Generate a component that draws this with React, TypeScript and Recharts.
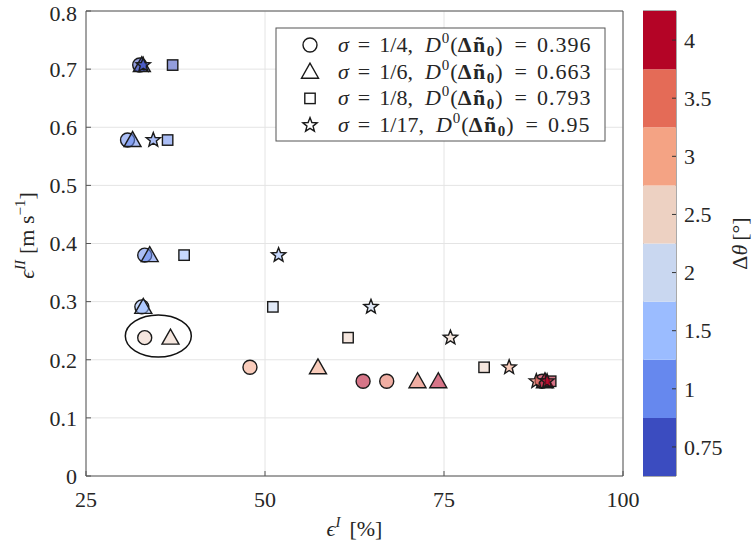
import React from "react";
import {
  ScatterChart,
  Scatter,
  XAxis,
  YAxis,
  CartesianGrid,
  ReferenceArea,
  ReferenceDot,
  BarChart,
  Bar,
} from "recharts";

// colour bins of the discrete colorbar (bottom -> top)
const binLabels = [0.75, 1, 1.5, 2, 2.5, 3, 3.5, 4];
const binColors = ["#3B4CC0", "#6688EE", "#9BBCFF", "#C9D7F0", "#EDD1C2", "#F4A384", "#E46B57", "#B40426"];

// sigma = 1/4 (circles)
const circleX = [32.5, 30.8, 33.2, 32.8, 33.2, 47.9, 63.7, 67.0, 88.7];
const circleY = [0.707, 0.578, 0.38, 0.291, 0.238, 0.187, 0.163, 0.163, 0.163];
const circleDT = [0.8, 1.1, 1.1, 1.7, 2.4, 2.9, 4.1, 3.4, 4.1];

// sigma = 1/6 (triangles)
const triX = [32.8, 31.5, 33.9, 33.0, 36.8, 57.4, 71.3, 74.2, 89.1];
const triY = [0.707, 0.578, 0.38, 0.291, 0.238, 0.187, 0.163, 0.163, 0.163];
const triDT = [0.8, 1.1, 1.1, 1.7, 2.4, 2.9, 3.4, 4.1, 4.1];

// sigma = 1/8 (squares)
const sqX = [37.1, 36.4, 38.7, 51.1, 61.6, 80.6, 89.9];
const sqY = [0.707, 0.578, 0.38, 0.291, 0.238, 0.187, 0.163];
const sqDT = [0.8, 1.1, 1.6, 1.9, 2.4, 2.4, 4.1];

// sigma = 1/17 (stars)
const starX = [33.0, 34.4, 51.9, 64.8, 75.9, 84.1, 87.9, 89.4];
const starY = [0.707, 0.578, 0.38, 0.291, 0.238, 0.187, 0.163, 0.163];
const starDT = [0.8, 1.1, 1.6, 1.9, 2.4, 2.9, 3.4, 4.1];

const xTicks = [25, 50, 75, 100];
const yTicks = [0, 0.1, 0.2, 0.3, 0.4, 0.5, 0.6, 0.7, 0.8];

const legendRows = [
  { kind: "circle", sigma: "1/4", d0: "0.396" },
  { kind: "triangle", sigma: "1/6", d0: "0.663" },
  { kind: "square", sigma: "1/8", d0: "0.793" },
  { kind: "star", sigma: "1/17", d0: "0.95" },
];

const FONT = "'Liberation Serif', 'DejaVu Serif', serif";
const INK = "#262626";

const toPoints = (xs: number[], ys: number[], dts: number[]) =>
  xs.map((x, i) => ({ x, y: ys[i], dt: dts[i] }));

const colorFor = (v: number) => {
  let best = 0;
  binLabels.forEach((b, i) => {
    if (Math.abs(b - v) < Math.abs(binLabels[best] - v)) best = i;
  });
  return binColors[best];
};

function starPath(cx: number, cy: number, ro: number, ri: number) {
  let d = "";
  for (let i = 0; i < 10; i++) {
    const r = i % 2 === 0 ? ro : ri;
    const a = -Math.PI / 2 + (i * Math.PI) / 5;
    d += (i === 0 ? "M" : "L") + (cx + r * Math.cos(a)).toFixed(2) + "," + (cy + r * Math.sin(a)).toFixed(2);
  }
  return d + "Z";
}

function Glyph({ kind, cx, cy, fill, opacity }: any) {
  const common = { fill: fill || "none", fillOpacity: opacity ?? 1, stroke: "#1a1a1a", strokeWidth: 1.4 };
  if (kind === "circle") return <circle cx={cx} cy={cy} r={7} {...common} />;
  if (kind === "triangle")
    return <polygon points={`${cx},${cy - 8.5} ${cx - 8.5},${cy + 6.5} ${cx + 8.5},${cy + 6.5}`} {...common} />;
  if (kind === "square") return <rect x={cx - 5.2} y={cy - 5.2} width={10.4} height={10.4} {...common} />;
  return <path d={starPath(cx, cy, 7.5, 3.2)} {...common} />;
}

const shapeOf = (kind: string) => (p: any) =>
  <Glyph kind={kind} cx={p.cx} cy={p.cy} fill={colorFor(p.payload.dt)} opacity={0.55} />;

function YTitle({ viewBox }: any) {
  const cy = viewBox ? viewBox.y + viewBox.height / 2 - 8 : 236;
  return (
    <text transform={`translate(34, ${cy}) rotate(-90)`} textAnchor="middle" fontFamily={FONT} fontSize={22} fill={INK}>
      <tspan fontStyle="italic">ϵ</tspan>
      <tspan fontStyle="italic" fontSize={15} dy={-9}>II</tspan>
      <tspan dy={9} dx={6}>[m s</tspan>
      <tspan fontSize={15} dy={-9}>−1</tspan>
      <tspan dy={9}>]</tspan>
    </text>
  );
}

function XTitle({ viewBox }: any) {
  const cx = viewBox ? viewBox.x + viewBox.width / 2 : 354;
  const y = viewBox ? viewBox.y + 60 : 536;
  return (
    <text x={cx} y={y} textAnchor="middle" fontFamily={FONT} fontSize={22} fill={INK}>
      <tspan fontStyle="italic">ϵ</tspan>
      <tspan fontStyle="italic" fontSize={15} dy={-9}>I</tspan>
      <tspan dy={9} dx={9}>[%]</tspan>
    </text>
  );
}

function CbTitle({ viewBox }: any) {
  const cy = viewBox ? viewBox.y + viewBox.height / 2 : 244;
  return (
    <text transform={`translate(104, ${cy}) rotate(-90)`} textAnchor="middle" fontFamily={FONT} fontSize={22} fill={INK}>
      <tspan>Δ</tspan>
      <tspan fontStyle="italic">θ</tspan>
      <tspan dx={4}>[°]</tspan>
    </text>
  );
}

function LegendBox() {
  return (
    <svg width={332} height={116} style={{ position: "absolute", left: 275, top: 27 }}>
      <rect x={1} y={1} width={329} height={113} fill="#fff" stroke="#555" strokeWidth={1} />
      {legendRows.map((r, i) => {
        const cy = 18 + i * 26.7;
        return (
          <g key={r.kind}>
            <Glyph kind={r.kind} cx={35} cy={cy} />
            <text x={63} y={cy + 7} fontFamily={FONT} fontSize={22} fill={INK}>
              <tspan fontStyle="italic">σ</tspan>
              <tspan dx={9}>=</tspan>
              <tspan dx={9}>{r.sigma + ","}</tspan>
              <tspan dx={12} fontStyle="italic">D</tspan>
              <tspan fontSize={15} dy={-9} dx={1}>0</tspan>
              <tspan dy={9} dx={1}>(</tspan>
              <tspan fontWeight="bold" letterSpacing={1.5}>Δñ</tspan>
              <tspan fontWeight="bold" fontSize={15} dy={4}>0</tspan>
              <tspan dy={-4} dx={1}>)</tspan>
              <tspan dx={12}>=</tspan>
              <tspan dx={10} letterSpacing={1}>{r.d0}</tspan>
            </text>
          </g>
        );
      })}
    </svg>
  );
}

const tickStyle = { fontFamily: FONT, fontSize: 22, fill: INK };
const cbData = [Object.fromEntries(binLabels.map((_, i) => [`b${i}`, 1]))];

export default function App() {
  return (
    <div style={{ position: "absolute", left: 0, top: 0, width: 753, height: 546, background: "#fff" }}>
      <div style={{ position: "absolute", left: 0, top: 0 }}>
        <ScatterChart width={643} height={546} margin={{ top: 11, right: 20, bottom: 0, left: 0 }}>
          <CartesianGrid stroke="#e4e4e4" strokeWidth={1} />
          <XAxis
            dataKey="x"
            type="number"
            domain={[25, 100]}
            ticks={xTicks}
            height={70}
            tickLine={{ stroke: "#555" }}
            tickSize={-5}
            axisLine={false}
            tick={tickStyle}
            tickMargin={20}
            label={<XTitle />}
          />
          <YAxis
            dataKey="y"
            type="number"
            domain={[0, 0.8]}
            ticks={yTicks}
            width={86}
            tickLine={{ stroke: "#555" }}
            tickSize={-5}
            axisLine={false}
            tick={tickStyle}
            tickMargin={14}
            tickFormatter={(v: number) => (v === 0 ? "0" : String(Number(v.toFixed(1))))}
            label={<YTitle />}
          />
          <ReferenceArea x1={25} x2={100} y1={0} y2={0.8} fill="none" stroke="#555" strokeWidth={1} ifOverflow="visible" />
          <Scatter data={toPoints(circleX, circleY, circleDT)} shape={shapeOf("circle")} isAnimationActive={false} />
          <Scatter data={toPoints(triX, triY, triDT)} shape={shapeOf("triangle")} isAnimationActive={false} />
          <Scatter data={toPoints(sqX, sqY, sqDT)} shape={shapeOf("square")} isAnimationActive={false} />
          <Scatter data={toPoints(starX, starY, starDT)} shape={shapeOf("star")} isAnimationActive={false} />
          <ReferenceDot
            x={35.1}
            y={0.241}
            ifOverflow="visible"
            shape={(p: any) => <ellipse cx={p.cx} cy={p.cy} rx={33} ry={21} fill="none" stroke="#111" strokeWidth={1.5} />}
          />
        </ScatterChart>
      </div>
      <LegendBox />
      <div style={{ position: "absolute", left: 643, top: 0 }}>
        <BarChart width={110} height={546} data={cbData} margin={{ top: 11, right: 0, bottom: 70, left: 0 }} barCategoryGap={0}>
          <XAxis hide />
          <YAxis
            orientation="right"
            type="number"
            domain={[0, 8]}
            ticks={binLabels.map((_, i) => i + 0.5)}
            tickFormatter={(v: number) => String(binLabels[Math.floor(v)])}
            width={77}
            axisLine={false}
            tickLine={{ stroke: "#333" }}
            tickSize={-4}
            tickMargin={12}
            tick={tickStyle}
            label={<CbTitle />}
          />
          {binLabels.map((_, i) => (
            <Bar key={i} dataKey={`b${i}`} stackId="cb" fill={binColors[i]} isAnimationActive={false} />
          ))}
          <ReferenceArea y1={0} y2={8} fill="none" stroke="#555" strokeWidth={1} />
        </BarChart>
      </div>
    </div>
  );
}
